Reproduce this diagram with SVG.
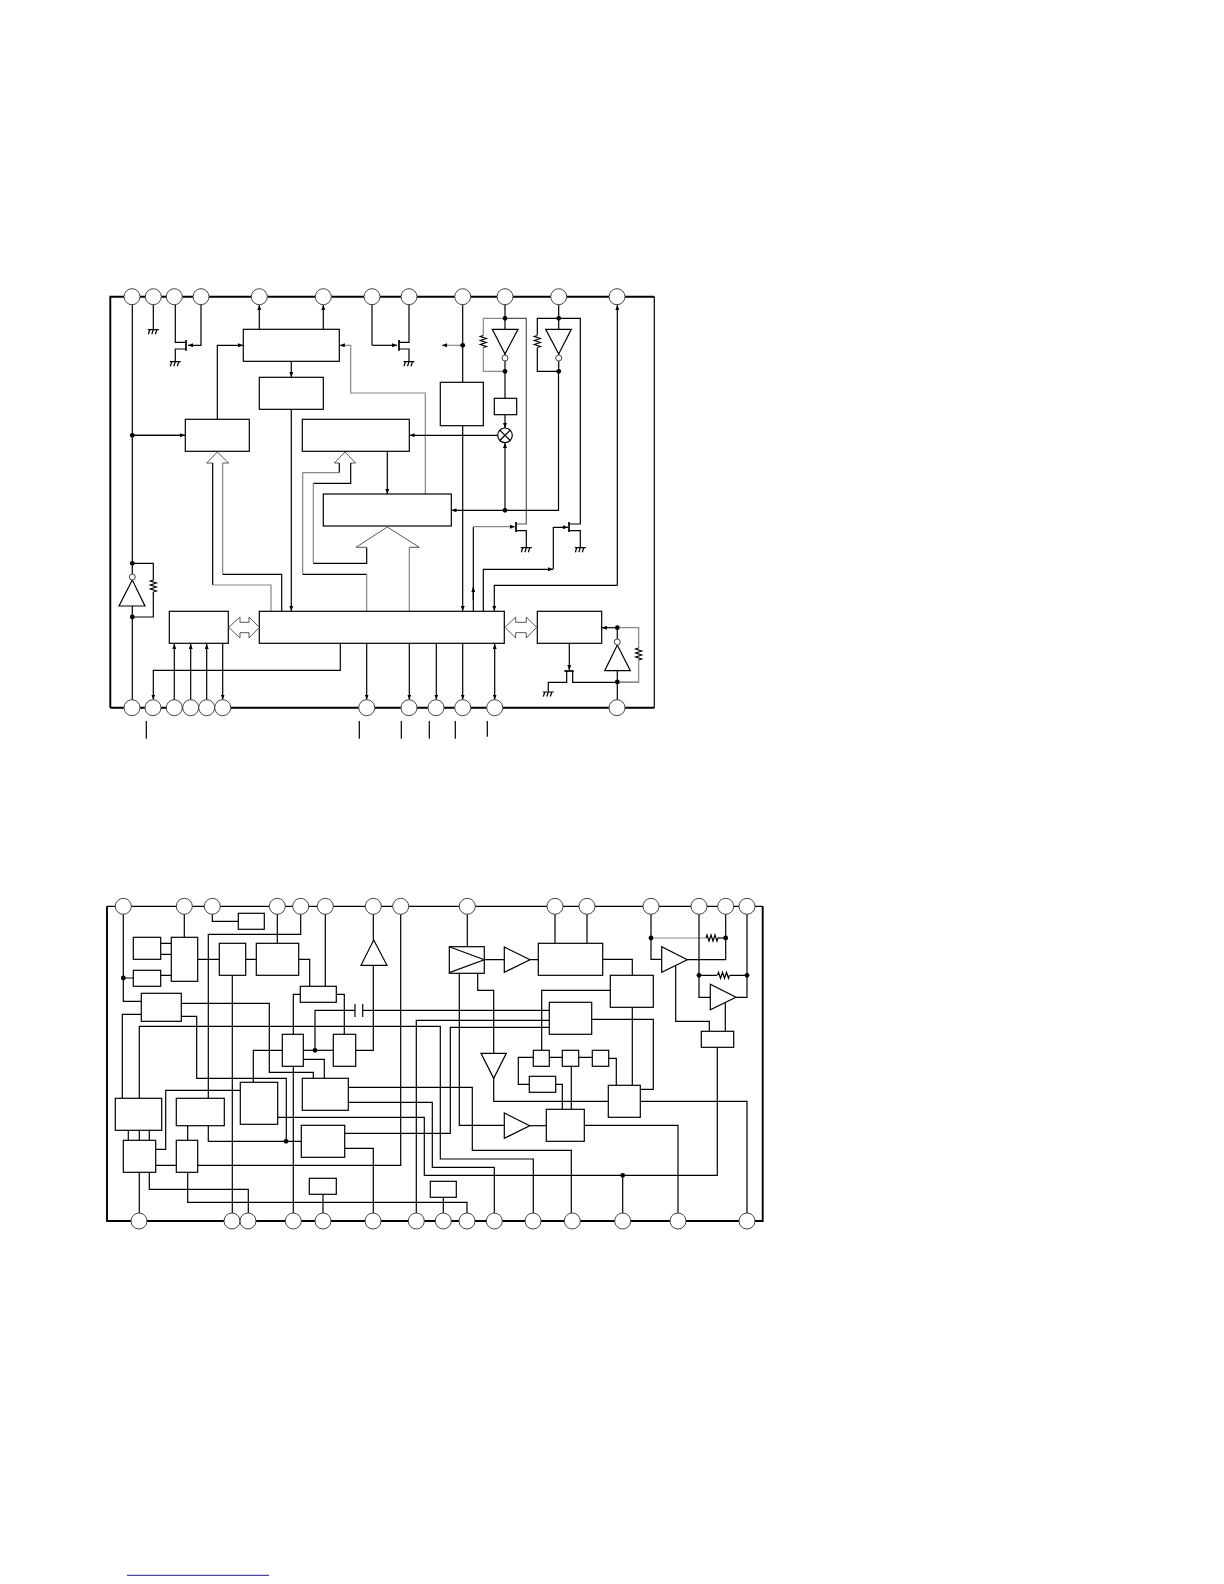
<svg xmlns="http://www.w3.org/2000/svg" xmlns:xlink="http://www.w3.org/1999/xlink" width="1224" height="1584" viewBox="0 0 1224 1584">
<style>
.w{fill:none;stroke:#000;stroke-width:1.2}
.g{fill:none;stroke:#888;stroke-width:1.2}
.b{fill:#fff;stroke:#000;stroke-width:1.2}
.p{fill:#fff;stroke:#444;stroke-width:1}
.d{fill:#000;stroke:none}
.t{fill:none;stroke:#000;stroke-width:1.9;stroke-linejoin:miter}
.h{fill:#fff;stroke:#444;stroke-width:.9}
.a{marker-end:url(#ah)}
.ab{marker-start:url(#ah);marker-end:url(#ah)}
.k{fill:none;stroke:#000;stroke-width:1.7}
</style>
<defs>
<marker id="ah" markerUnits="userSpaceOnUse" markerWidth="5" markerHeight="4" viewBox="0 0 5 4" refX="5" refY="2" orient="auto-start-reverse"><path d="M0 0L5 2L0 4Z" fill="#000"/></marker>
<g id="gnd"><path class="w" d="M-5.500 0H5.500M-3.500 0L-5 4.500M0 0L-1.500 4.500M3.500 0L2 4.500"/></g>
<path id="rv" class="w" d="M0 -6L-3 -5L3 -3L-3 -1L3 1L-3 3L3 5L0 6"/>
<path id="rh" class="w" d="M-6 0L-5 -3L-3 3L-1 -3L1 3L3 -3L5 3L6 0"/>
<path id="rg" class="w" d="M-6 0L-5 -3L-3 3L-1 -3L1 3L3 -3L5 3L6 0"/>
<circle id="dot" class="d" r="2.400"/>
</defs>

<g id="frame-1"><path class="t" d="M110.300 707.700V296.700H654.300"/><path class="t" d="M110.300 707.700H654.300"/><path class="w" d="M654.300 296.700V707.700"/></g>

<g id="connectors-1">
<path class="w" d="M132.300 297V708M132.300 435.300H185.300" />
<path class="w a" d="M132.300 435.300H185"/>
<path class="w" d="M132.300 563.300H153.300V580M153.300 592V617H132.300"/>
<use xlink:href="#rv" x="153.300" y="586"/>
<path class="w" d="M153.300 297V329.300"/>
<use xlink:href="#gnd" x="153.300" y="329.700"/>
<path class="w" d="M175.300 297V342.300H186M186 349H175.300V361.300"/>
<use xlink:href="#gnd" x="175.300" y="361.700"/>
<path class="w a" d="M201 297V345.300H188"/>
<path class="k" d="M186 340V350.700"/>
<path class="w a" d="M259.300 329.300V305"/><path class="w a" d="M323.300 329.300V305"/>
<path class="w a" d="M217.300 419.300V345.300H243"/>
<path class="g a" d="M425.300 494V393H350.700V345.300H339.800"/>
<path class="w a" d="M291.300 361.300V377"/>
<path class="w a" d="M291.300 409.300V611"/>
<path class="w" d="M212.700 463V585"/><path class="g" d="M212.700 585H271V611.300"/>
<path class="g" d="M222.700 463V574.300"/><path class="w" d="M222.700 574.300H281.700V611.300"/>
<path class="w" d="M339.300 463V472.700"/><path class="g" d="M339.300 472.700H302.700V574.300"/><path class="w" d="M302.700 574.300H366.700"/><path class="g" d="M366.700 574.300V611.300"/>
<path class="w" d="M350.700 463V483.300H313.300"/><path class="g" d="M313.300 483.300V563.300"/><path class="w" d="M313.300 563.300H366.700V547.300"/>
<path class="g" d="M409.300 547.300V611.300"/>
<path class="w a" d="M387.300 451.300V494"/>
<path class="w" d="M372 297V345.300"/><path class="w a" d="M372 345.300H397"/>
<path class="w" d="M409 297V342.300H399M399 349H409V361.300"/>
<use xlink:href="#gnd" x="409" y="361.700"/>
<path class="k" d="M399 340V350.700"/>
<path class="w a" d="M462.700 297V611"/>
<path class="g a" d="M462.700 345.300H442"/>
<path class="w" d="M505 297V398"/>
<path class="g" d="M505 318.300H483.300V335M483.300 348V371.300H505"/>
<use xlink:href="#rv" x="483.300" y="341.500"/>
<path class="w" stroke="#555" style="stroke:#555" d="M505 318.300H526.300V524H516"/><path class="w" d="M516 530.700H526.300V547.300"/>
<use xlink:href="#gnd" x="526.300" y="547.700"/>
<path class="k" d="M516 522V532"/>
<path class="w a" d="M505 414.700V428"/>
<path class="w a" d="M498 435.300H409.500"/>
<path class="w a" d="M505 510.300V443"/>
<path class="w a" d="M558.500 371.300V510.300H451.500"/>
<path class="w" d="M558.700 297V371.300M558.700 318.300H537.300V335M537.300 348V371.300H558.700"/>
<use xlink:href="#rv" x="537.300" y="341.500"/>
<path class="w" d="M558.700 318.300H580.300V524H569M569 530.700H580.300V547.300"/>
<use xlink:href="#gnd" x="580.300" y="547.700"/>
<path class="k" d="M569 522V532"/>
<path class="w" d="M473.300 611.300V526.700"/>
<path class="g a" d="M473.300 526.700H515"/>
<path class="w a" d="M473.300 600V587"/>
<path class="w a" d="M483.300 611.300V569.300H553"/>
<path class="w a" d="M553.300 569.300V527.300H568"/>
<path class="w a" d="M617.300 585.300V305"/>
<path class="w a" d="M617.300 585.300H494.300V611"/>
<path class="w a" d="M340.300 643.300V670.300H153.300V699.500"/>
<path class="w a" d="M174.300 700V644"/><path class="w a" d="M190.700 700V644"/><path class="w a" d="M206.700 700V644"/>
<path class="w a" d="M222.700 643.300V699.500"/>
<path class="w a" d="M366.700 643.300V699.500"/><path class="w a" d="M409.300 643.300V699.500"/><path class="w a" d="M436.300 643.300V699.500"/><path class="w a" d="M462.700 643.300V699.500"/>
<path class="w ab" d="M494.700 644V699.500"/>
<path class="w a" d="M569.300 643.300V670"/>
<path class="k" d="M564.300 671H573.700"/>
<path class="w" d="M566.700 671V682.300H548.300V691.700"/>
<use xlink:href="#gnd" x="548.300" y="692"/>
<path class="w" d="M572.700 671V682.300H638.700"/>
<path class="w" d="M617.300 627.700V708"/>
<path class="w a" d="M617.300 627.700H602"/>
<path class="g" d="M617.300 627.700H638.700V648M638.700 660V682.300H617.300"/>
<use xlink:href="#rv" x="638.700" y="654"/>
<path class="w" d="M146.300 721V738.700M359.300 721V738.700M401.300 721V738.700M429.300 721V738.700M455.300 721V738.700M487.300 721V736.700"/>
</g>

<g id="dots-1">
<use xlink:href="#dot" x="132.300" y="435.300"/><use xlink:href="#dot" x="132.300" y="563.300"/><use xlink:href="#dot" x="132.300" y="617"/>
<use xlink:href="#dot" x="462.700" y="345.300"/><use xlink:href="#dot" x="505" y="318.300"/><use xlink:href="#dot" x="505" y="371.300"/>
<use xlink:href="#dot" x="558.700" y="318.300"/><use xlink:href="#dot" x="558.700" y="371.300"/><use xlink:href="#dot" x="505" y="510.300"/>
<use xlink:href="#dot" x="617.300" y="627.700"/><use xlink:href="#dot" x="617.300" y="682"/>
</g>

<g id="n1-box-a"><rect class="b" x="243.300" y="329.300" width="96" height="32"/></g>
<g id="n1-box-b"><rect class="b" x="259.300" y="377.300" width="64" height="32"/></g>
<g id="n1-box-c"><rect class="b" x="185.300" y="419.300" width="64" height="32"/></g>
<g id="n1-box-d"><rect class="b" x="302.300" y="419.300" width="107" height="32"/></g>
<g id="n1-box-e"><rect class="b" x="323.300" y="494" width="128" height="32"/></g>
<g id="n1-box-f"><rect class="b" x="440.300" y="382.300" width="43" height="43.400"/></g>
<g id="n1-box-g"><rect class="b" x="494.300" y="398.300" width="22.400" height="16.400"/></g>
<g id="n1-main"><rect class="b" x="259.300" y="611.300" width="245" height="32"/></g>
<g id="n1-box-h"><rect class="b" x="169.300" y="611.300" width="59" height="32"/></g>
<g id="n1-box-i"><rect class="b" x="537.300" y="611.300" width="64.400" height="32"/></g>
<g id="n1-mixer"><circle class="b" cx="505" cy="435.300" r="7.300"/><path class="w" d="M499.800 430.100L510.200 440.500M510.200 430.100L499.800 440.500"/></g>
<g id="n1-inv-1"><path class="b" d="M492.300 329.300H518L505 354Z"/><circle class="p" cx="505" cy="358" r="3"/></g>
<g id="n1-inv-2"><path class="b" d="M545.700 329.300H571.300L558.700 354Z"/><circle class="p" cx="558.700" cy="358" r="3"/></g>
<g id="n1-inv-3"><path class="b" d="M119 606H145L132.300 580Z"/><circle class="p" cx="132.300" cy="577" r="3"/></g>
<g id="n1-inv-4"><path class="b" d="M604.700 670.700H630.300L617.300 645Z"/><circle class="p" cx="617.300" cy="642" r="3"/></g>
<g id="n1-bus"><path class="h" d="M212.700 463H206.700L217.300 452L228.700 463H222.700"/><path class="h" d="M339.300 463H334.300L345 452L355.700 463H350.700"/><path class="h" d="M366.700 547.300H356L387.300 527L419.300 547.300H409.300"/>
<path class="h" d="M228.700 627.300L240 617V622.300H249V617L259.300 627.300L249 638V632.700H240V638Z"/>
<path class="h" d="M505 627.300L515.700 617V622.300H526.300V617L536.700 627.300L526.300 638V632.700H515.700V638Z"/></g>
<g id="n1-pins">
<circle class="p" cx="132" cy="296.700" r="8"/><circle class="p" cx="153.300" cy="296.700" r="8"/><circle class="p" cx="174.300" cy="296.700" r="8"/><circle class="p" cx="201" cy="296.700" r="8"/><circle class="p" cx="259.300" cy="296.700" r="8"/><circle class="p" cx="323.300" cy="296.700" r="8"/><circle class="p" cx="372" cy="296.700" r="8"/><circle class="p" cx="409" cy="296.700" r="8"/><circle class="p" cx="462.700" cy="296.700" r="8"/><circle class="p" cx="505" cy="296.700" r="8"/><circle class="p" cx="558.700" cy="296.700" r="8"/><circle class="p" cx="617" cy="296.700" r="8"/>
<circle class="p" cx="132" cy="707.700" r="8"/><circle class="p" cx="153" cy="707.700" r="8"/><circle class="p" cx="174.300" cy="707.700" r="8"/><circle class="p" cx="190.700" cy="707.700" r="8"/><circle class="p" cx="206.700" cy="707.700" r="8"/><circle class="p" cx="222.700" cy="707.700" r="8"/><circle class="p" cx="366.700" cy="707.700" r="8"/><circle class="p" cx="409" cy="707.700" r="8"/><circle class="p" cx="436" cy="707.700" r="8"/><circle class="p" cx="462.700" cy="707.700" r="8"/><circle class="p" cx="494.700" cy="707.700" r="8"/><circle class="p" cx="617" cy="707.700" r="8"/>
</g>

<g id="frame-2"><path class="w" d="M107 906.300H762.700"/><path class="t" d="M107 906.300V1221H762.700V906.300"/></g>

<g id="connectors-2">
<path class="w" d="M123.300 906V1001.300H141.300M123.300 978H133.300"/>
<path class="w" d="M160.700 943.300H171.300M160.700 954.300H171.300M160.700 975.300H171.300M184.300 906V937.300M197.700 959.300H219.300M245.700 959.300H256.300"/>
<path class="w" d="M212.300 906V921.300H238.300"/>
<path class="w" d="M300.700 906V934.300H208.300V1098.300"/>
<path class="w" d="M277.300 906V943.300"/>
<path class="w" d="M232.300 975.300V1221"/>
<path class="w" d="M298.700 959.300H309.700V986.300"/>
<path class="w" d="M325.300 906V986.300"/>
<path class="w" d="M300.300 994.300H293.300V1221"/>
<path class="w" d="M336.300 994.300H344.300V1034.300"/>
<path class="w" d="M181.300 1003.300H269.300V1072.300H313.300V1078.300"/>
<path class="w" d="M181.300 1016.300H196.700V1078.300H286.300V1141.300"/>
<path class="w" d="M208.300 1125.700V1141.300H301.300"/>
<path class="w" d="M141.300 1014.300H122.300V1098.300"/>
<path class="w" d="M139.300 1098.300V1026.300H440.300V1159H533.300V1221"/>
<path class="w" d="M315 1050.300V1010.300H355M362.700 1010.300H549.300"/>
<path class="w" d="M355 1004V1017M362.700 1004V1017"/>
<path class="w" d="M282.300 1050.300H253.300V1082.300"/>
<path class="w" d="M303.300 1050.300H333.300"/>
<path class="w" d="M303.300 1059.300H324.300V1078.300"/>
<path class="w" d="M355.700 1050.300H373.300V965.300M373.300 940V906"/>
<path class="w" d="M400.700 906V1165.300H155.700"/>
<path class="w" d="M128.300 1130.300V1140.300M139.300 1130.300V1140.300M149.300 1130.300V1140.300M187.700 1125.700V1140.300"/>
<path class="w" d="M139.300 1172.300V1221"/>
<path class="w" d="M149.300 1172.300V1189.300H248.300V1221"/>
<path class="w" d="M187.700 1172.300V1202.300H467V1221"/>
<path class="w" d="M443.300 1197.300V1221M323 1194.300V1221"/>
<path class="w" d="M155.700 1149.300H165.700V1090.300H240.300"/>
<path class="w" d="M277.700 1117.300H424.300V1175.300H717.300V1047.300"/>
<path class="w" d="M622.700 1175.300V1221"/>
<path class="w" d="M348.300 1087.300H472.300V1150.300H571.300V1221"/>
<path class="w" d="M348.300 1102.300H432.300V1167.300H494.300V1221"/>
<path class="w" d="M344.700 1133.300H450.300V1027.300H549.300"/>
<path class="w" d="M344.700 1148.300H373.300V1221"/>
<path class="w" d="M416.300 1221V1020.300H549.300"/>
<path class="w" d="M467.300 906V946.700"/>
<path class="w" d="M459.300 973.300V1125.300H504.300"/>
<path class="w" d="M477.700 973.300V990.300H493.700V1053.300"/>
<path class="w" d="M493.700 1078.300V1101.300H608.300"/>
<path class="w" d="M484.300 959.700H504.300M530 959.700H538.300"/>
<path class="w" d="M555 906V943.300M587 906V943.300"/>
<path class="w" d="M602.700 959.300H632.300V975.300"/>
<path class="w" d="M610.300 990.300H541.700V1050.300"/>
<path class="w" d="M632.300 1007.300V1085.300"/>
<path class="w" d="M591.700 1019.300H653.300V1089.300H640.300"/>
<path class="w" d="M533.300 1057.300H518.300V1084.300H529.300"/>
<path class="w" d="M549.300 1057.300H562.300M578.700 1057.300H592.300"/>
<path class="w" d="M608.700 1058.300H616.300V1085.300"/>
<path class="w" d="M571.300 1066.300V1109.300"/>
<path class="w" d="M555.700 1084.300H562.300V1109.300"/>
<path class="w" d="M529.700 1125.700H546.300"/>
<path class="w" d="M584.300 1125.300H678V1221"/>
<path class="w" d="M640.300 1101.300H747V1221"/>
<path class="w" d="M747 906V997.300H736"/>
<path class="w" d="M651 906V959.300H661.700"/>
<path class="g" d="M651 938H706"/><path class="w" d="M718 938H725.700"/>
<use xlink:href="#rg" x="712" y="938"/>
<path class="w" d="M725.700 906V959.700H687.300"/>
<path class="w" d="M699 906V997.300H710.300"/>
<path class="w" d="M699 975.300H717M730 975.300H747"/>
<use xlink:href="#rh" x="723.500" y="975.300"/>
<path class="w" d="M675.700 966V1021.300H709.300V1031.300"/>
<path class="w" d="M725.300 1003V1031.300"/>
</g>

<g id="dots-2">
<use xlink:href="#dot" x="123.300" y="978"/><use xlink:href="#dot" x="315" y="1050.300"/><use xlink:href="#dot" x="286" y="1141.300"/>
<use xlink:href="#dot" x="622.700" y="1175.300"/><use xlink:href="#dot" x="651" y="938"/><use xlink:href="#dot" x="725.700" y="938"/><use xlink:href="#dot" x="699" y="975.300"/><use xlink:href="#dot" x="747" y="975.300"/>
</g>

<g id="n2-b1"><rect class="b" x="133.300" y="937.300" width="27.400" height="22"/></g>
<g id="n2-b2"><rect class="b" x="133.300" y="970.300" width="27.400" height="16"/></g>
<g id="n2-b3"><rect class="b" x="171.300" y="937.300" width="26.400" height="44"/></g>
<g id="n2-b4"><rect class="b" x="238.300" y="913.300" width="26" height="16"/></g>
<g id="n2-b5"><rect class="b" x="219.300" y="943.300" width="26.400" height="32"/></g>
<g id="n2-b6"><rect class="b" x="256.300" y="943.300" width="42.400" height="32"/></g>
<g id="n2-b7"><rect class="b" x="300.300" y="986.300" width="36" height="16"/></g>
<g id="n2-b8"><rect class="b" x="141.300" y="993.300" width="40" height="28"/></g>
<g id="n2-b9"><rect class="b" x="282.300" y="1034.300" width="21" height="32"/></g>
<g id="n2-b10"><rect class="b" x="333.300" y="1034.300" width="22.400" height="32"/></g>
<g id="n2-b11"><rect class="b" x="115.300" y="1098.300" width="46.400" height="32"/></g>
<g id="n2-b12"><rect class="b" x="123.300" y="1140.300" width="32.400" height="32"/></g>
<g id="n2-b13"><rect class="b" x="176.300" y="1098.300" width="48" height="27.400"/></g>
<g id="n2-b14"><rect class="b" x="176.300" y="1140.300" width="21.400" height="32"/></g>
<g id="n2-b15"><rect class="b" x="240.300" y="1082.300" width="37.400" height="42"/></g>
<g id="n2-b16"><rect class="b" x="302.300" y="1078.300" width="46" height="32"/></g>
<g id="n2-b17"><rect class="b" x="301.300" y="1125.300" width="43.400" height="32"/></g>
<g id="n2-b18"><rect class="b" x="309.300" y="1178.300" width="27" height="16"/></g>
<g id="n2-b19"><rect class="b" x="430.300" y="1181.300" width="26" height="16"/></g>
<g id="n2-b20"><rect class="b" x="538.300" y="943.300" width="64.400" height="32"/></g>
<g id="n2-b21"><rect class="b" x="610.300" y="975.300" width="43" height="32"/></g>
<g id="n2-b22"><rect class="b" x="549.300" y="1002.300" width="42.400" height="32"/></g>
<g id="n2-b23"><rect class="b" x="533.300" y="1050.300" width="16" height="16"/></g>
<g id="n2-b24"><rect class="b" x="562.300" y="1050.300" width="16.400" height="16"/></g>
<g id="n2-b25"><rect class="b" x="592.300" y="1050.300" width="16.400" height="16"/></g>
<g id="n2-b26"><rect class="b" x="529.300" y="1076.300" width="26.400" height="16"/></g>
<g id="n2-b27"><rect class="b" x="546.300" y="1109.300" width="38" height="32"/></g>
<g id="n2-b28"><rect class="b" x="608.300" y="1085.300" width="32" height="32"/></g>
<g id="n2-b29"><rect class="b" x="701.300" y="1031.300" width="32.400" height="16"/></g>
<g id="n2-tx"><rect class="b" x="449.300" y="946.700" width="35" height="26.600"/><path class="w" d="M449.300 946.700L484.300 959.700L449.300 972.600"/></g>
<g id="n2-amp-a"><path class="b" d="M361 965.300H387L373.700 940Z"/></g>
<g id="n2-amp-b"><path class="b" d="M504.300 947V972.300L530 959.700Z"/></g>
<g id="n2-amp-c"><path class="b" d="M481 1053.300H506.300L493.700 1078.300Z"/></g>
<g id="n2-amp-d"><path class="b" d="M504.300 1113V1138.300L529.700 1125.700Z"/></g>
<g id="n2-amp-e"><path class="b" d="M661.700 946.700V972.300L687.300 959.700Z"/></g>
<g id="n2-amp-f"><path class="b" d="M710.300 984.300V1009.700L736 997.300Z"/></g>
<g id="n2-pins">
<circle class="p" cx="123.300" cy="906.300" r="8"/><circle class="p" cx="184.300" cy="906.300" r="8"/><circle class="p" cx="212.300" cy="906.300" r="8"/><circle class="p" cx="277.300" cy="906.300" r="8"/><circle class="p" cx="300.700" cy="906.300" r="8"/><circle class="p" cx="325.300" cy="906.300" r="8"/><circle class="p" cx="373.300" cy="906.300" r="8"/><circle class="p" cx="400.700" cy="906.300" r="8"/><circle class="p" cx="467.300" cy="906.300" r="8"/><circle class="p" cx="555" cy="906.300" r="8"/><circle class="p" cx="587" cy="906.300" r="8"/><circle class="p" cx="651" cy="906.300" r="8"/><circle class="p" cx="699" cy="906.300" r="8"/><circle class="p" cx="725.700" cy="906.300" r="8"/><circle class="p" cx="747" cy="906.300" r="8"/>
<circle class="p" cx="139" cy="1221" r="8"/><circle class="p" cx="232" cy="1221" r="8"/><circle class="p" cx="248" cy="1221" r="8"/><circle class="p" cx="293.300" cy="1221" r="8"/><circle class="p" cx="323" cy="1221" r="8"/><circle class="p" cx="373" cy="1221" r="8"/><circle class="p" cx="416.300" cy="1221" r="8"/><circle class="p" cx="443.300" cy="1221" r="8"/><circle class="p" cx="467" cy="1221" r="8"/><circle class="p" cx="494.300" cy="1221" r="8"/><circle class="p" cx="533" cy="1221" r="8"/><circle class="p" cx="572.300" cy="1221" r="8"/><circle class="p" cx="622.700" cy="1221" r="8"/><circle class="p" cx="678" cy="1221" r="8"/><circle class="p" cx="747" cy="1221" r="8"/>
</g>
<path id="footer-rule" d="M127 1575.300H269" fill="none" stroke="#1a1a80" stroke-width="1"/>
</svg>
